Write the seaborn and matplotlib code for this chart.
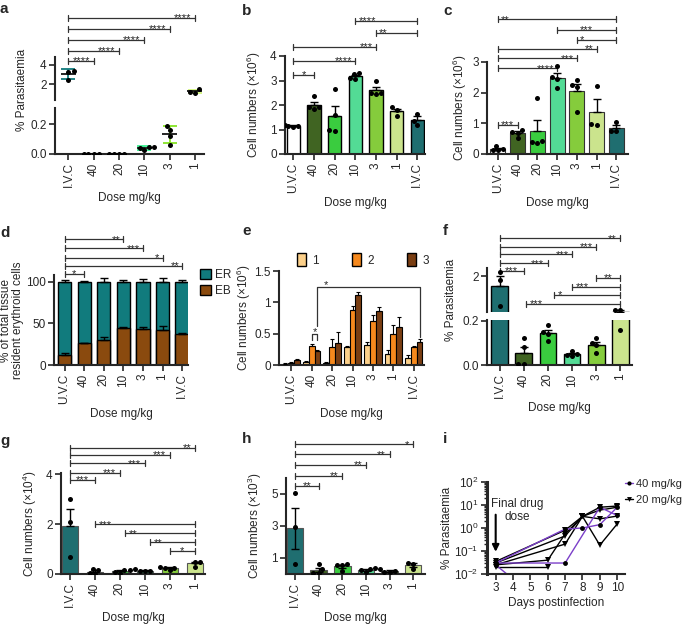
import numpy as np
import pandas as pd
import matplotlib
matplotlib.use('Agg')
import matplotlib.pyplot as plt
import seaborn as sns
from matplotlib.transforms import blended_transform_factory
from matplotlib.patches import Patch
from matplotlib.lines import Line2D
from matplotlib.ticker import FormatStrFormatter, LogLocator

sns.set_theme(style='ticks')
plt.rcParams['font.family'] = ['Liberation Sans', 'DejaVu Sans']
FS = 8.5
plt.rcParams.update({'font.size': FS, 'axes.labelsize': FS, 'xtick.labelsize': FS,
                     'ytick.labelsize': FS, 'legend.fontsize': FS,
                     'mathtext.fontset': 'custom', 'mathtext.rm': 'Liberation Sans',
                     'mathtext.it': 'Liberation Sans:italic', 'mathtext.bf': 'Liberation Sans:bold',
                     'mathtext.default': 'regular'})

# ---------------- data ----------------
ivc_first = ['I.V.C', '40', '20', '10', '3', '1']
uvc_first = ['U.V.C', '40', '20', '10', '3', '1', 'I.V.C']

# a: % parasitaemia (points, mean +/- SD)
a_vals = [[3.35, 3.3, 2.45], [0, 0, 0, 0], [0, 0, 0, 0],
          [0.05, 0.045, 0.025, 0.04], [0.187, 0.16, 0.06, 0.12], [1.45, 1.1, 1.15]]
# b: cell numbers x10^6
b_vals = [[1.1, 1.15, 1.2, 1.15], [2.35, 1.9, 1.85, 1.9], [2.67, 1.58, 0.98, 0.95],
          [3.3, 3.25, 3.1, 3.05], [3.0, 2.5, 2.45, 2.5], [1.9, 1.55, 1.8], [1.65, 1.2, 1.35]]
# c: cell numbers x10^6
c_vals = [[0.27, 0.15, 0.12, 0.14], [0.78, 0.52, 0.7, 0.72], [1.84, 0.4, 0.35, 0.42],
          [2.87, 2.43, 2.16, 2.5], [2.4, 2.24, 1.36, 2.2], [2.21, 0.98, 0.95], [1.05, 0.75, 0.75]]
# d: % of tissue resident erythroid cells
d_eb = [12, 26, 30, 44, 43, 42, 37]
d_eb_err = [2, 1, 4, 1.5, 3, 5, 1.5]
d_tot_err = [2, 1, 4.5, 1.5, 3, 5, 1.5]
# e: cell numbers x10^6 per group
e_groups = ['1', '2', '3']
e_g1 = [0.02, 0.05, 0.03, 0.29, 0.32, 0.17, 0.11]
e_g2 = [0.03, 0.31, 0.29, 0.88, 0.70, 0.49, 0.28]
e_g3 = [0.08, 0.23, 0.35, 1.12, 0.86, 0.60, 0.37]
e_err1 = [0.005, 0.01, 0.02, 0.01, 0.05, 0.07, 0.05]
e_err2 = [0.01, 0.02, 0.13, 0.06, 0.10, 0.15, 0.02]
e_err3 = [0.01, 0.01, 0.18, 0.05, 0.06, 0.17, 0.04]
# f: % parasitaemia
f_vals = [[2.2, 1.85, 0.6], [0.12, 0.08, 0.005, 0.005], [0.18, 0.14, 0.15, 0.11],
          [0.065, 0.05, 0.04, 0.045], [0.12, 0.1, 0.09, 0.055], [0.4, 0.4, 0.16]]
# g: cell numbers x10^4
g_vals = [[3.02, 2.1, 0.7], [0.15, 0.0, 0.05, 0.2], [0.15, 0.1, 0.05, 0.18],
          [0.12, 0.12, 0.12, 0.2], [0.25, 0.15, 0.25, 0.3], [0.5, 0.5, 0.3]]
# h: cell numbers x10^3
h_vals = [[5.05, 2.95, 0.6], [0.6, 0.3, 0.05, 0.05], [0.6, 0.55, 0.55, 0.2],
          [0.3, 0.25, 0.1, 0.35], [0.1, 0.15, 0.2, 0.3], [0.7, 0.65, 0.3]]
# i: parasitaemia time courses, one list per mouse
i_40 = [([3, 7, 8, 9, 10], [0.03, 0.9, 1.0, 1.4, 8.0]),
        ([3, 7, 9, 10], [0.03, 0.03, 8.0, 3.5]),
        ([3, 4], [0.025, 0.006])]
i_20 = [([3, 6, 7, 8, 9, 10], [0.025, 0.04, 0.55, 3.2, 0.18, 1.5]),
        ([3, 7, 8, 9, 10], [0.025, 0.2, 3.2, 2.5, 3.3]),
        ([3, 7, 8, 9, 10], [0.03, 0.45, 3.2, 6.0, 8.0]),
        ([3, 7, 8, 9, 10], [0.035, 0.8, 3.2, 8.0, 9.0]),
        ([3, 6], [0.02, 0.02])]

pal = {'U.V.C': '#ffffff', '40': '#3f6f17', '20': '#22e428', '10': '#3cf294',
       '3': '#86e424', '1': '#d1f37e', 'I.V.C': '#117b7d'}
er_col, eb_col = '#117b7d', '#8a4a0e'
e_pal = {'1': '#fcd08a', '2': '#f6891d', '3': '#7a3e12'}
purple = '#7b3fc9'

W, H = 685, 624
fig = plt.figure(figsize=(W / 100, H / 100), dpi=100)


def add_ax(l, t, r, b):
    return fig.add_axes([l / W, 1 - b / H, (r - l) / W, (b - t) / H])


def long_df(doses, vals):
    return pd.DataFrame({'dose': np.repeat(doses, [len(v) for v in vals]),
                         'val': np.concatenate(vals)})


def style(ax):
    sns.despine(ax=ax)
    for s in ('left', 'bottom'):
        ax.spines[s].set_linewidth(1.5)
    ax.tick_params(width=1.2, length=4, labelsize=FS, pad=2)


def bracket(ax, x1, x2, y, txt, side='r'):
    tr = blended_transform_factory(ax.transData, ax.transAxes)
    axh = ax.bbox.height
    cap = 3.0 / axh
    kw = dict(color='#333333', lw=0.9, transform=tr, clip_on=False)
    ax.plot([x1, x2], [y, y], **kw)
    ax.plot([x1, x1], [y - cap, y + cap], **kw)
    ax.plot([x2, x2], [y - cap, y + cap], **kw)
    if side == 'c':
        tx, ha = (x1 + x2) / 2, 'center'
    elif side == 'l':
        tx, ha = x1 + 0.15, 'left'
    else:
        tx, ha = x2 - 0.15, 'right'
    ax.text(tx, y - 3.5 / axh, txt, transform=tr, ha=ha, va='baseline', fontsize=8, color='#222222')


def swarm(ax, df, doses, ylim):
    # only the points that fall inside this axis (matters for the broken axes)
    sub = df[(df['val'] >= ylim[0]) & (df['val'] <= ylim[1])]
    sns.swarmplot(data=sub, x='dose', y='val', order=doses, color='black', size=3.6, ax=ax, zorder=4)


def bar_panel(ax, doses, vals, ylim, xlim, width, edge='black', lw=1.0, both=False):
    df = long_df(doses, vals)
    sns.barplot(data=df, x='dose', y='val', hue='dose', order=doses, hue_order=doses,
                palette=pal, errorbar=None, width=width, edgecolor=edge, linewidth=lw,
                legend=False, ax=ax)
    st = df.groupby('dose', sort=False)['val'].agg(['mean', 'sem']).reindex(doses)
    lo = st['sem'].values if both else np.zeros(len(doses))
    ax.errorbar(np.arange(len(doses)), st['mean'].values, yerr=[lo, st['sem'].values],
                fmt='none', ecolor='black', elinewidth=1, capsize=3, capthick=1, zorder=3)
    ax.set_ylim(*ylim)
    ax.set_xlim(*xlim)
    swarm(ax, df, doses, ylim)
    ax.set_ylim(*ylim)
    ax.set_xlim(*xlim)
    ax.tick_params(axis='x', rotation=90)
    ax.set_xlabel('Dose mg/kg', labelpad=3)
    ax.set_ylabel('')
    style(ax)


def hide_bottom(ax):
    ax.spines['bottom'].set_visible(False)
    ax.tick_params(axis='x', bottom=False, labelbottom=False)
    ax.set_xlabel('')
    ax.set_ylabel('')


# ---------------- a ----------------
a_up = add_ax(55, 57, 204, 100)
a_lo = add_ax(55, 108, 204, 154)
adf = long_df(ivc_first, a_vals)
ast = adf.groupby('dose', sort=False)['val'].agg(['mean', 'std']).reindex(ivc_first)
xs = np.arange(len(ivc_first))
for ax, yl in ((a_up, (0.32, 4.84)), (a_lo, (0, 0.307))):
    for i, d in enumerate(ivc_first):
        if yl[0] <= ast['mean'][d] <= yl[1]:
            ax.errorbar(i, ast['mean'][d], yerr=ast['std'][d], fmt='none', ecolor=pal[d],
                        elinewidth=1.3, capsize=5, capthick=1.3, zorder=2)
    ax.hlines(ast['mean'].values, xs - 0.3, xs + 0.3, color='black', lw=1.2, zorder=3)
    ax.set_ylim(*yl)
    ax.set_xlim(-0.53, 5.36)
    swarm(ax, adf, ivc_first, yl)
    ax.set_ylim(*yl)
    ax.set_xlim(-0.53, 5.36)
    style(ax)
hide_bottom(a_up)
a_up.set_yticks([2, 4])
a_lo.set_yticks([0, 0.2])
a_lo.yaxis.set_major_formatter(FormatStrFormatter('%.1f'))
a_lo.tick_params(axis='x', rotation=90)
a_lo.set_xlabel('Dose mg/kg', labelpad=3)
a_lo.set_ylabel('')
fig.text(22 / W, 1 - 90 / H, '% Parasitaemia', rotation=90, ha='center', va='center', fontsize=FS)
for j, (y, t) in enumerate([(1.907, '****'), (1.651, '****'), (1.395, '****'), (1.147, '****'), (0.907, '****')]):
    bracket(a_up, 0, 5 - j, y, t, 'c' if j == 4 else 'r')

# ---------------- b ----------------
b_ax = add_ax(285, 56, 425, 154)
bar_panel(b_ax, uvc_first, b_vals, (0, 4), (-0.4, 6.37), 0.65)
b_ax.set_ylabel('Cell numbers (×10$^{6}$)', labelpad=5)
bracket(b_ax, 0, 1, 0.806, '*', 'c')
bracket(b_ax, 0, 3, 0.949, '****')
bracket(b_ax, 0, 4, 1.092, '***')
bracket(b_ax, 4, 6, 1.235, '**', 'l')
bracket(b_ax, 3, 6, 1.357, '****', 'l')

# ---------------- c ----------------
c_ax = add_ax(487, 62, 628, 154)
bar_panel(c_ax, uvc_first, c_vals, (0, 3), (-0.55, 6.59), 0.75, edge='#333333', lw=0.8)
c_ax.set_ylabel('Cell numbers (×10$^{6}$)', labelpad=2)
bracket(c_ax, 0, 1, 0.315, '***', 'c')
bracket(c_ax, 0, 3, 0.931, '****')
bracket(c_ax, 0, 4, 1.04, '***')
bracket(c_ax, 0, 5, 1.141, '**')
bracket(c_ax, 4, 6, 1.239, '*', 'l')
bracket(c_ax, 3, 6, 1.348, '***', 'c')
bracket(c_ax, 0, 6, 1.464, '**', 'l')

# ---------------- d ----------------
d_ax = add_ax(54, 275, 188, 365)
d_er = [100 - v for v in d_eb]
d_tot = [a + b for a, b in zip(d_eb, d_er)]
sns.barplot(x=uvc_first, y=d_tot, color=er_col, saturation=1, width=0.68, edgecolor='black',
            linewidth=1, ax=d_ax)
sns.barplot(x=uvc_first, y=d_eb, color=eb_col, saturation=1, width=0.68, edgecolor='black',
            linewidth=1, ax=d_ax)
z7 = np.zeros(7)
d_ax.errorbar(np.arange(7), d_tot, yerr=[z7, d_tot_err], fmt='none', ecolor='black',
              elinewidth=1, capsize=3, capthick=1, zorder=3)
d_ax.errorbar(np.arange(7), d_eb, yerr=[z7, d_eb_err], fmt='none', ecolor='black',
              elinewidth=1, capsize=3, capthick=1, zorder=3)
d_ax.set_ylim(0, 108)
d_ax.set_xlim(-0.54, 6.3)
d_ax.set_yticks([0, 50, 100])
d_ax.tick_params(axis='x', rotation=90)
d_ax.set_xlabel('Dose mg/kg', labelpad=3)
d_ax.set_ylabel('% of total tissue\nresident erythroid cells', labelpad=1, linespacing=1.0)
style(d_ax)
d_ax.legend(handles=[Patch(facecolor=er_col, edgecolor='black', label='ER'),
                     Patch(facecolor=eb_col, edgecolor='black', label='EB')],
            loc='upper left', bbox_to_anchor=(1.09, 1.07), frameon=False, borderpad=0,
            borderaxespad=0, handlelength=0.9, handleheight=0.9, handletextpad=0.4, labelspacing=0.35)
bracket(d_ax, 0, 3, 1.396, '**')
bracket(d_ax, 0, 4, 1.296, '***')
bracket(d_ax, 0, 5, 1.193, '*')
bracket(d_ax, 0, 6, 1.1, '**')
bracket(d_ax, 0, 1, 1.011, '*', 'c')

# ---------------- e ----------------
e_ax = add_ax(279, 271, 424, 365)
edf = pd.DataFrame({'dose': uvc_first * 3,
                    'group': np.repeat(e_groups, 7),
                    'val': e_g1 + e_g2 + e_g3})
ew = 0.85
sns.barplot(data=edf, x='dose', y='val', hue='group', order=uvc_first, hue_order=e_groups,
            palette=e_pal, saturation=1, errorbar=None, width=ew, edgecolor='black', linewidth=0.8,
            legend=False, ax=e_ax)
offs = (np.arange(3) - 1) * ew / 3
for k, (m, er) in enumerate([(e_g1, e_err1), (e_g2, e_err2), (e_g3, e_err3)]):
    e_ax.errorbar(np.arange(7) + offs[k], m, yerr=[z7, er], fmt='none', ecolor='black',
                  elinewidth=0.8, capsize=1.5, capthick=0.8, zorder=3)
e_ax.set_ylim(0, 1.5)
e_ax.set_xlim(-0.6, 6.5)
e_ax.set_yticks([0, 0.5, 1, 1.5], ['0', '0.5', '1', '1.5'])
e_ax.tick_params(axis='x', rotation=90)
e_ax.set_xlabel('Dose mg/kg', labelpad=3)
e_ax.set_ylabel('Cell numbers (×10$^{6}$)', labelpad=1)
style(e_ax)
e_ax.legend(handles=[Patch(facecolor=e_pal[g], edgecolor='black', label=g) for g in e_groups],
            loc='center left', bbox_to_anchor=(0.124, 1.117), ncol=3, frameon=False, borderpad=0,
            borderaxespad=0, handlelength=0.8, handleheight=1.3, handletextpad=0.5, columnspacing=2.8)
# brackets inside e (data coordinates)
bk = dict(color='#333333', lw=0.9)
x2a, x3a = 1 + offs[1], 1 + offs[2]
e_ax.plot([x2a, x2a, x3a, x3a], [0.4, 0.49, 0.49, 0.4], **bk)
e_ax.text((x2a + x3a) / 2, 0.47, '*', ha='center', va='baseline', fontsize=8)
xr = 6 + offs[2]
e_ax.plot([x3a, x3a, xr, xr], [0.62, 1.25, 1.25, 0.45], **bk)
e_ax.text(x3a + 0.4, 1.23, '*', ha='center', va='baseline', fontsize=8)

# ---------------- f ----------------
f_up = add_ax(487, 268, 632, 312)
f_lo = add_ax(487, 320, 632, 365)
bar_panel(f_up, ivc_first, f_vals, (0.3, 2.4), (-0.52, 5.48), 0.69)
bar_panel(f_lo, ivc_first, f_vals, (0, 0.203), (-0.52, 5.48), 0.69)
hide_bottom(f_up)
f_up.set_yticks([2])
f_lo.set_yticks([0, 0.2])
f_lo.yaxis.set_major_formatter(FormatStrFormatter('%.1f'))
fig.text(451 / W, 1 - 300 / H, '% Parasitaemia', rotation=90, ha='center', va='center', fontsize=FS)
bracket(f_up, 0, 5, 1.674, '**')
bracket(f_up, 0, 4, 1.485, '***')
bracket(f_up, 0, 3, 1.31, '***')
bracket(f_up, 0, 2, 1.106, '***')
bracket(f_up, 0, 1, 0.939, '***', 'c')
bracket(f_up, 4, 5, 0.78, '**', 'c')
bracket(f_up, 3, 5, 0.576, '***', 'l')
bracket(f_up, 2.25, 5, 0.386, '*', 'l')
bracket(f_up, 1.1, 5, 0.182, '***', 'l')

# ---------------- g ----------------
g_ax = add_ax(61, 473, 205, 574)
bar_panel(g_ax, ivc_first, g_vals, (0, 4.05), (-0.35, 5.4), 0.66, edge='#555555', lw=0.8)
g_ax.set_ylabel('Cell numbers (×10$^{4}$)', labelpad=5)
bracket(g_ax, 0, 5, 1.25, '**')
bracket(g_ax, 0, 4, 1.178, '***')
bracket(g_ax, 0, 3, 1.096, '***')
bracket(g_ax, 0, 2, 1.003, '***')
bracket(g_ax, 0, 1, 0.931, '***', 'c')
bracket(g_ax, 1, 5, 0.492, '***', 'l')
bracket(g_ax, 2.2, 5, 0.403, '**', 'l')
bracket(g_ax, 3.2, 5, 0.314, '**', 'l')
bracket(g_ax, 4, 5, 0.228, '*', 'c')

# ---------------- h ----------------
h_ax = add_ax(286, 478, 425, 574)
bar_panel(h_ax, ivc_first, h_vals, (0, 6), (-0.38, 5.5), 0.7, edge='#555555', lw=0.8, both=True)
h_ax.set_yticks([1, 3, 5])
h_ax.set_ylabel('Cell numbers (×10$^{3}$)', labelpad=5)
bracket(h_ax, 0, 5, 1.351, '*')
bracket(h_ax, 0, 4, 1.247, '**')
bracket(h_ax, 0, 3, 1.135, '**')
bracket(h_ax, 0, 2, 1.024, '**')
bracket(h_ax, 0, 1, 0.917, '**', 'c')

# ---------------- i ----------------
i_ax = add_ax(487, 482, 625, 574)
for days, vals in i_20:
    sns.lineplot(x=days, y=vals, color='black', lw=1, marker='v', markersize=4,
                 markeredgewidth=0, ax=i_ax, estimator=None)
for days, vals in i_40:
    sns.lineplot(x=days, y=vals, color=purple, lw=1, marker='o', markersize=3.5,
                 markeredgewidth=0, markerfacecolor='black', ax=i_ax, estimator=None)
i_ax.set_yscale('log')
i_ax.set_ylim(0.01, 100)
i_ax.set_yticks([0.01, 0.1, 1, 10, 100])
i_ax.yaxis.set_minor_locator(LogLocator(base=10, subs=np.arange(2, 10), numticks=12))
i_ax.set_xlim(2.5, 10.45)
i_ax.set_xticks(range(3, 11))
i_ax.set_xlabel('Days postinfection', labelpad=2)
i_ax.set_ylabel('% Parasitaemia', labelpad=1)
style(i_ax)
i_ax.tick_params(axis='y', which='minor', length=2.5, width=1)
i_ax.spines['left'].set_linewidth(2.2)
i_ax.annotate('', xy=(3, 0.07), xytext=(3, 5),
              arrowprops=dict(arrowstyle='-|>', color='black', lw=1.5, mutation_scale=10))
i_ax.text(4.25, 5.8, 'Final drug\ndose', ha='center', va='center', fontsize=FS, linespacing=1.15)
i_ax.legend(handles=[Line2D([], [], color=purple, marker='o', markersize=3, markerfacecolor='black',
                            markeredgewidth=0, lw=1, label='40 mg/kg'),
                     Line2D([], [], color='black', marker='v', markersize=3.5, markeredgewidth=0,
                            lw=1, label='20 mg/kg')],
            loc='upper left', bbox_to_anchor=(1.0, 1.03), frameon=False, borderpad=0,
            borderaxespad=0, handlelength=0.7, handletextpad=0.25, labelspacing=0.5, fontsize=8)

# ---------------- panel letters ----------------
for lab, x, y in [('a', 0, 2), ('b', 242, 4), ('c', 443, 4), ('d', 0, 226), ('e', 242, 224),
                  ('f', 443, 224), ('g', 0, 434), ('h', 242, 432), ('i', 443, 432)]:
    fig.text(x / W, 1 - y / H, lab, fontsize=11, fontweight='bold', ha='left', va='top')

fig.savefig('out.png', dpi=100)
